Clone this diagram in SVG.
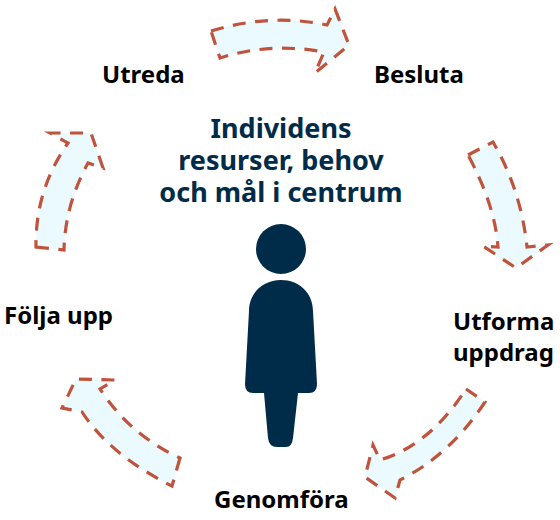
<svg xmlns="http://www.w3.org/2000/svg" width="560" height="520" viewBox="0 0 560 520">
<style>
.arrow{fill:#ebfafe;stroke:#c0533b;stroke-width:3.2;stroke-dasharray:13 9.5;stroke-linejoin:miter}
.title{font-family:"Noto Sans",sans-serif;font-weight:700;font-size:27px;fill:#002b49;text-anchor:middle}
.label{font-family:"Noto Sans",sans-serif;font-weight:700;font-size:24px;fill:#000}
.person{fill:#002b49}
</style>
<rect width="560" height="520" fill="#fff"/>
<g id="connectors">
<path class="arrow" d="M211 31Q270 13 327 25L335 9L349 45L315 73L324 52Q270 42 220 58Z"/>
<path class="arrow" d="M468 155L493 142Q521 190 527 247L548 245L516 268L483 246L498 247Q495 205 468 155Z"/>
<path class="arrow" d="M466 389L485 402Q450 455 400 480L395 498L365 477L373 445L380 460Q430 445 466 389Z"/>
<path class="arrow" d="M180 458L172 486Q110 455 82 412L62 408L76 379L115 380L100 389Q130 435 180 458Z"/>
<path class="arrow" d="M36 247L64 250Q65 205 88 163L103 168L91 133L50 133L68 143Q35 190 36 247Z"/>
</g>
<g id="title"><text class="title"><tspan x="281" y="138">Individens</tspan><tspan x="281" y="170">resurser, behov</tspan><tspan x="281" y="202">och mål i centrum</tspan></text></g>
<g id="person"><circle class="person" cx="281" cy="249" r="25"/>
<path class="person" d="M281 280C263 280 249 293 249 311L245 384Q245 393 253 393L264 393L268 438Q269 447 277 447L286 447Q292 447 293 438L298 393L309 393Q317 393 317 384L313 311C313 293 299 280 281 280Z"/></g>
<g id="utreda"><text class="label" x="102" y="83">Utreda</text></g>
<g id="besluta"><text class="label" x="374" y="83">Besluta</text></g>
<g id="utforma"><text class="label" x="453" y="330">Utforma</text><text class="label" x="453" y="361">uppdrag</text></g>
<g id="genomfora"><text class="label" x="214" y="508">Genomföra</text></g>
<g id="folja"><text class="label" x="4" y="324">Följa upp</text></g>
</svg>
